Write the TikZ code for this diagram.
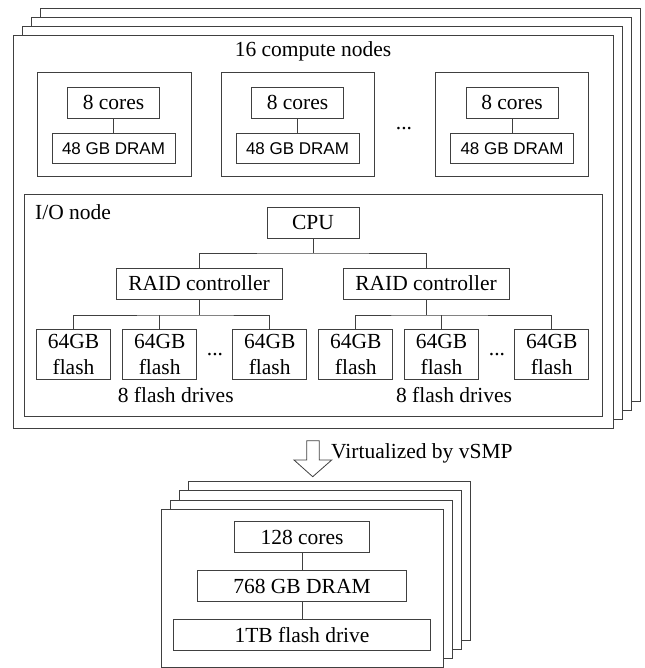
\documentclass[tikz,border=0pt]{standalone}
\usepackage{fontspec}
\setmainfont{Liberation Serif}
\newfontfamily\arialf{Liberation Sans}
\tikzset{
  ln/.style={draw=black!75, line width=0.8pt},
  frame/.style={ln, fill=white, inner sep=0pt},
  box/.style={ln, fill=white, inner sep=0pt, minimum height=31pt, font=\fontsize{21.5}{26}\selectfont},
  sbox/.style={ln, fill=white, inner sep=0pt, minimum height=30pt, minimum width=123pt, font=\arialf\fontsize{17}{20}\selectfont},
  flashbox/.style={ln, fill=white, inner sep=0pt, minimum height=50pt, minimum width=74pt, align=center, font=\fontsize{21.5}{26}\selectfont},
  lbl/.style={inner sep=0pt, font=\fontsize{21.5}{26}\selectfont},
  conn/.style={draw=black!75, line width=0.8pt}
}
\begin{document}
\begin{tikzpicture}[x=1pt,y=-1pt]
\useasboundingbox (0,0) rectangle (644,668);
% top stack of frames
\node[frame, minimum width=600pt, minimum height=393pt] (t4) at (340,204.5) {};
\node[frame, minimum width=600pt, minimum height=393pt] (t3) at (331,213.5) {};
\node[frame, minimum width=600pt, minimum height=393pt] (t2) at (322,222.5) {};
\node[frame, minimum width=600pt, minimum height=393pt] (t1) at (313,231.5) {};
\node[lbl] (title) at (313,51) {16 compute nodes};
% compute nodes
\node[frame, minimum width=154pt, minimum height=104pt] (cb1) at (114,124) {};
\node[frame, minimum width=153pt, minimum height=104pt] (cb2) at (298,124) {};
\node[frame, minimum width=153pt, minimum height=104pt] (cb3) at (512,124) {};
\node[box, minimum width=92pt] (c1) at (113.5,102.8) {8 cores};
\node[box, minimum width=92pt] (c2) at (297.5,102.8) {8 cores};
\node[box, minimum width=92pt] (c3) at (512,102.8) {8 cores};
\node[sbox] (d1) at (113.5,148.3) {48 GB DRAM};
\node[sbox] (d2) at (297.5,148.3) {48 GB DRAM};
\node[sbox] (d3) at (512,148.3) {48 GB DRAM};
\draw[conn] (c1) -- (d1);
\draw[conn] (c2) -- (d2);
\draw[conn] (c3) -- (d3);
\node[lbl, anchor=base] (dots0) at (404,130) {...};
% I/O node
\node[frame, minimum width=578pt, minimum height=222pt] (io) at (313,305) {};
\node[lbl, anchor=base west] (iolbl) at (35,219) {I/O node};
\node[box, minimum width=92pt] (cpu) at (313,222.7) {CPU};
\node[box, minimum width=166pt] (r1) at (199,283.5) {RAID controller};
\node[box, minimum width=166pt] (r2) at (426,283.5) {RAID controller};
\coordinate (bus) at (313,253);
\draw[conn] (cpu.south) -- (bus);
\draw[conn] (r1.north) |- (bus) -| (r2.north);
\node[flashbox] (f1) at (73.5,354) {64GB\\flash};
\node[flashbox] (f2) at (159.7,354) {64GB\\flash};
\node[flashbox] (f3) at (269.7,354) {64GB\\flash};
\node[flashbox] (f4) at (355.8,354) {64GB\\flash};
\node[flashbox] (f5) at (441.5,354) {64GB\\flash};
\node[flashbox] (f6) at (551.7,354) {64GB\\flash};
\coordinate (fb1) at (199,315);
\coordinate (fb2) at (426,315);
\draw[conn] (r1.south) -- (fb1);
\draw[conn] (f1.north) |- (fb1) -| (f3.north);
\draw[conn] (f2.north) -- (f2.north |- fb1);
\draw[conn] (r2.south) -- (fb2);
\draw[conn] (f4.north) |- (fb2) -| (f6.north);
\draw[conn] (f5.north) -- (f5.north |- fb2);
\node[lbl, anchor=base] (dots1) at (215,355) {...};
\node[lbl, anchor=base] (dots2) at (497,355) {...};
\node[lbl] (fd1) at (175.7,395) {8 flash drives};
\node[lbl] (fd2) at (454,395) {8 flash drives};
% arrow
\draw[conn, fill=white] (306.7,440.7) -- (306.7,460) -- (294,460) -- (312.7,476.7) -- (331.7,460) -- (319.3,460) -- (319.3,440.7) -- cycle;
\node[lbl, anchor=west] (virt) at (331,453) {Virtualized by vSMP};
% lower stack
\node[frame, minimum width=282pt, minimum height=159.4pt] (b4) at (329.7,561) {};
\node[frame, minimum width=282pt, minimum height=159pt] (b3) at (320.5,570.2) {};
\node[frame, minimum width=282pt, minimum height=158.7pt] (b2) at (311.2,579.35) {};
\node[frame, minimum width=282pt, minimum height=158.2pt] (b1) at (302.2,588.4) {};
\node[box, minimum width=135pt] (cores) at (302,537) {128 cores};
\node[box, minimum width=209pt] (dram) at (302,586.2) {768 GB DRAM};
\node[box, minimum width=257pt] (flash) at (302,634.7) {1TB flash drive};
\draw[conn] (cores) -- (dram);
\draw[conn] (dram) -- (flash);
\end{tikzpicture}
\end{document}
